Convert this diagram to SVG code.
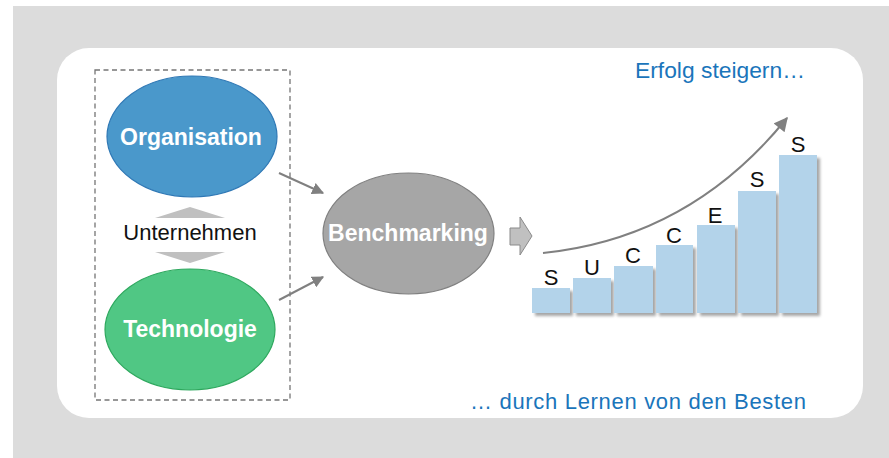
<svg xmlns="http://www.w3.org/2000/svg" width="889" height="458" viewBox="0 0 889 458">
<style>
  .lbl { font-family: "Liberation Sans", Arial, sans-serif; }
  .node-txt { font-family: "Liberation Sans", Arial, sans-serif; font-weight: bold; font-size: 23px; fill: #ffffff; text-anchor: middle; }
  .bar { fill: #b3d3ea; filter: url(#shadow); }
  .letter { font-family: "Liberation Sans", Arial, sans-serif; font-size: 22px; fill: #111111; text-anchor: middle; }
  .blue { font-family: "Liberation Sans", Arial, sans-serif; font-size: 22px; fill: #1a75bb; }
  .conn { stroke: #808080; stroke-width: 2; fill: none; }
</style>
<defs>
  <marker id="ah" viewBox="0 0 10 10" refX="9" refY="5" markerWidth="6" markerHeight="6" markerUnits="strokeWidth" orient="auto">
    <path d="M0,0 L10,5 L0,10 z" fill="#808080"/>
  </marker>
  <marker id="ah2" viewBox="0 0 10 10" refX="9" refY="5" markerWidth="7.5" markerHeight="7" markerUnits="strokeWidth" orient="auto">
    <path d="M0,0 L10,5 L0,10 z" fill="#808080"/>
  </marker>
  <filter id="shadow" x="-20%" y="-20%" width="150%" height="150%">
    <feGaussianBlur in="SourceAlpha" stdDeviation="1.5"/>
    <feOffset dx="3" dy="3" result="b"/>
    <feComponentTransfer><feFuncA type="linear" slope="0.35"/></feComponentTransfer>
    <feMerge><feMergeNode/><feMergeNode in="SourceGraphic"/></feMerge>
  </filter>
</defs>

<rect x="13" y="6" width="876" height="452" fill="#dcdcdc"/>
<rect x="57" y="48" width="806" height="370" rx="32" ry="32" fill="#ffffff"/>

<text class="blue" x="635" y="78" textLength="170" lengthAdjust="spacingAndGlyphs">Erfolg steigern…</text>
<text class="blue" x="470" y="409" textLength="336" lengthAdjust="spacing">… durch Lernen von den Besten</text>

<g id="unternehmen-box">
  <rect x="95" y="70" width="195" height="330" fill="none" stroke="#757575" stroke-width="1.3" stroke-dasharray="5,3.5"/>
</g>

<g id="organisation">
  <ellipse cx="192" cy="136.5" rx="85" ry="60.5" fill="#4a98cb" stroke="#2f78b5" stroke-width="1.2"/>
  <text class="node-txt" x="191" y="145">Organisation</text>
</g>

<g id="unternehmen">
  <polygon points="190,207 225,218 155,218" fill="#c0c0c0"/>
  <polygon points="155,252 225,252 190,263" fill="#c0c0c0"/>
  <text class="lbl" x="190" y="240" font-size="22" fill="#111111" text-anchor="middle">Unternehmen</text>
</g>

<g id="technologie">
  <ellipse cx="190" cy="329.5" rx="85" ry="60.5" fill="#50c784" stroke="#2ea85e" stroke-width="1.2"/>
  <text class="node-txt" x="190" y="337">Technologie</text>
</g>

<g id="benchmarking">
  <ellipse cx="408.5" cy="233.5" rx="85.5" ry="60.5" fill="#a6a6a6" stroke="#808080" stroke-width="1.2"/>
  <text class="node-txt" x="408" y="241">Benchmarking</text>
</g>

<g id="connectors">
  <line class="conn" x1="279" y1="173" x2="323" y2="193" marker-end="url(#ah)"/>
  <line class="conn" x1="279" y1="300" x2="323" y2="277" marker-end="url(#ah)"/>
  <polygon points="510,228 520,228 520,217 532,236 520,255 520,245 510,245" fill="#c0c0c0" stroke="#8a8a8a" stroke-width="1"/>
  <path class="conn" d="M543,253 Q690,238 787,118" marker-end="url(#ah2)"/>
</g>

<g id="success">
  <rect class="bar" x="532" y="288" width="38" height="25"/>
  <rect class="bar" x="573" y="278" width="38" height="35"/>
  <rect class="bar" x="614" y="266" width="39" height="47"/>
  <rect class="bar" x="656" y="245" width="37" height="68"/>
  <rect class="bar" x="697" y="225" width="38" height="88"/>
  <rect class="bar" x="738" y="191" width="38" height="122"/>
  <rect class="bar" x="779" y="155" width="38" height="158"/>
  <text class="letter" x="551" y="285">S</text>
  <text class="letter" x="592" y="275">U</text>
  <text class="letter" x="633" y="263">C</text>
  <text class="letter" x="674" y="243">C</text>
  <text class="letter" x="715" y="223">E</text>
  <text class="letter" x="757" y="187">S</text>
  <text class="letter" x="798" y="152">S</text>
</g>
</svg>
